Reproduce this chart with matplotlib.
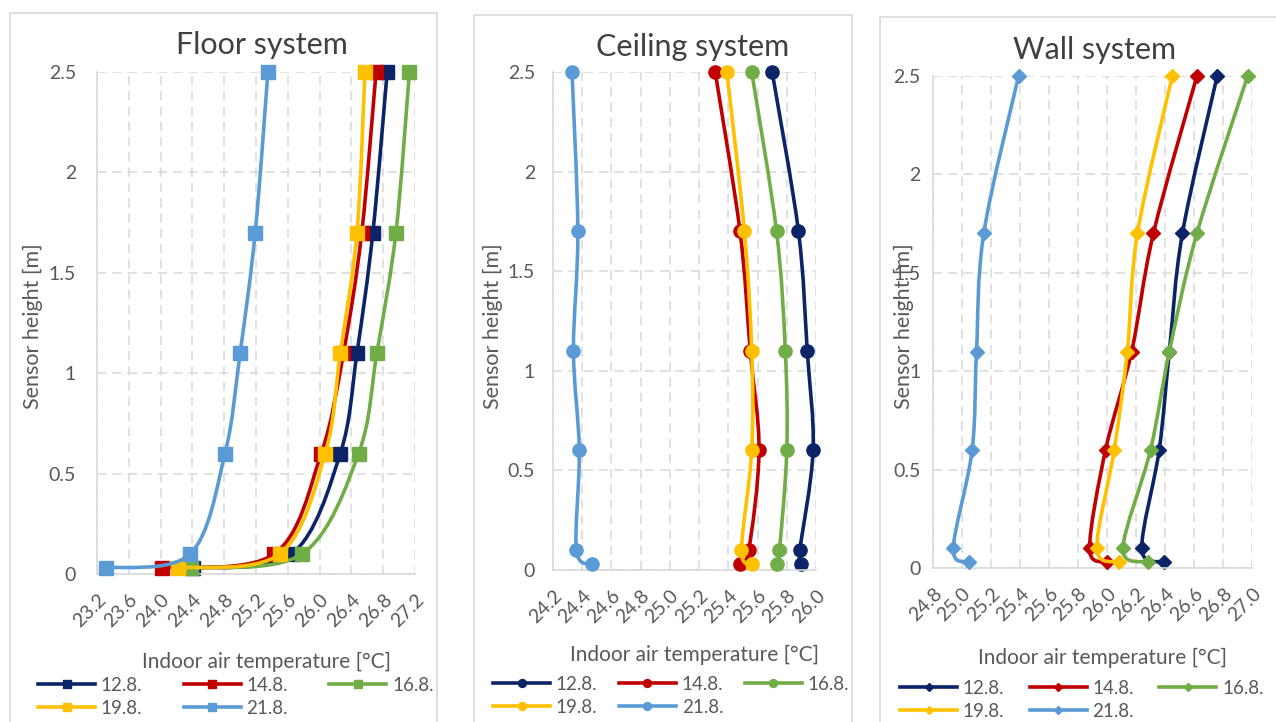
import matplotlib
matplotlib.use("Agg")
import matplotlib.pyplot as plt
from matplotlib.path import Path
from matplotlib.patches import PathPatch, Rectangle
from matplotlib.lines import Line2D
import numpy as np

plt.rcParams['font.family'] = ['Lato', 'DejaVu Sans']

heights = [0.03, 0.1, 0.6, 1.1, 1.7, 2.5]
days = ["12.8.", "14.8.", "16.8.", "19.8.", "21.8."]
colors = ["#0B2468", "#C00000", "#70AD47", "#FFC000", "#5B9BD5"]

# temperatures per day, bottom sensor -> top sensor
floor_temps = [
    [24.41, 25.65, 26.26, 26.47, 26.67, 26.85],
    [24.02, 25.43, 26.02, 26.30, 26.53, 26.71],
    [24.38, 25.78, 26.49, 26.72, 26.96, 27.13],
    [24.22, 25.50, 26.07, 26.26, 26.47, 26.57],
    [23.31, 24.37, 24.81, 25.00, 25.19, 25.35],
]
ceiling_temps = [
    [25.90, 25.89, 25.98, 25.94, 25.88, 25.70],
    [25.48, 25.54, 25.61, 25.55, 25.48, 25.31],
    [25.73, 25.75, 25.80, 25.79, 25.73, 25.56],
    [25.56, 25.49, 25.56, 25.56, 25.51, 25.39],
    [24.47, 24.36, 24.38, 24.34, 24.37, 24.33],
]
wall_temps = [
    [26.39, 26.24, 26.36, 26.43, 26.52, 26.76],
    [26.00, 25.88, 25.99, 26.17, 26.32, 26.62],
    [26.28, 26.11, 26.30, 26.43, 26.62, 26.97],
    [26.08, 25.93, 26.05, 26.14, 26.21, 26.45],
    [25.05, 24.94, 25.07, 25.10, 25.15, 25.39],
]

floor_xticks = [23.2, 23.6, 24.0, 24.4, 24.8, 25.2, 25.6, 26.0, 26.4, 26.8, 27.2]
ceiling_xticks = [24.2, 24.4, 24.6, 24.8, 25.0, 25.2, 25.4, 25.6, 25.8, 26.0]
wall_xticks = [24.8, 25.0, 25.2, 25.4, 25.6, 25.8, 26.0, 26.2, 26.4, 26.6, 26.8, 27.0]
yticks = [0, 0.5, 1, 1.5, 2, 2.5]
ytick_labels = ["0", "0.5", "1", "1.5", "2", "2.5"]

W, H = 1276, 722
fig = plt.figure(figsize=(W / 100, H / 100), dpi=100)
fig.patch.set_facecolor("white")

GRAY = "#595959"


def smooth_path(x, y):
    # Excel-like smoothed line (Catmull-Rom as cubic Bezier)
    p = np.column_stack([x, y])
    n = len(p)
    verts = [p[0]]
    codes = [Path.MOVETO]
    for i in range(n - 1):
        p0 = p[i - 1] if i > 0 else p[i]
        p3 = p[i + 2] if i + 2 < n else p[i + 1]
        c1 = p[i] + (p[i + 1] - p0) / 6.0
        c2 = p[i + 1] - (p3 - p[i]) / 6.0
        verts += [c1, c2, p[i + 1]]
        codes += [Path.CURVE4] * 3
    return Path(verts, codes)


def panel(rect_px, box_px, temps, xticks, marker, ms, title, title_xy,
          ylab_x, ypad, xlab_y, leg_xy, colsp):
    l, t, r, b = rect_px
    ax = fig.add_axes([l / W, 1 - b / H, (r - l) / W, (b - t) / H])
    fig.add_artist(Rectangle((box_px[0] / W, 1 - box_px[3] / H),
                             (box_px[2] - box_px[0]) / W,
                             (box_px[3] - box_px[1]) / H,
                             transform=fig.transFigure, fill=False,
                             ec="#D9D9D9", lw=1.2, zorder=0))
    handles = []
    for k, (vals, c) in enumerate(zip(temps, colors)):
        ax.add_patch(PathPatch(smooth_path(vals, heights), fc="none", ec=c,
                               lw=2.6, zorder=2 + k, capstyle="round"))
        ax.plot(vals, heights, ls="none", marker=marker, ms=ms, color=c,
                mec=c, zorder=2.5 + k, clip_on=False)
        handles.append(Line2D([], [], color=c, lw=2.6, marker=marker,
                              ms=ms * 0.6, label=days[k]))
    ax.set_xlim(xticks[0], xticks[-1])
    ax.set_ylim(0, 2.5)
    ax.set_xticks(xticks)
    ax.set_xticklabels([f"{v:.1f}" for v in xticks], rotation=45,
                       ha="right", rotation_mode="anchor", fontsize=14,
                       color=GRAY)
    ax.set_yticks(yticks)
    ax.set_yticklabels(ytick_labels, fontsize=14, color=GRAY)
    ax.tick_params(length=0)
    ax.tick_params(axis="x", pad=12)
    ax.tick_params(axis="y", pad=ypad)
    ax.grid(True, color="#D9D9D9", ls=(0, (6, 4)), lw=1.1)
    ax.set_axisbelow(True)
    for s in ["top", "right"]:
        ax.spines[s].set_visible(False)
    for s in ["left", "bottom"]:
        ax.spines[s].set_color("#D9D9D9")
        ax.spines[s].set_linewidth(1.2)
    fig.text(title_xy[0] / W, 1 - title_xy[1] / H, title, fontsize=22,
             color="#404040", ha="center", va="center")
    fig.text(ylab_x / W, 1 - 326 / H, "Sensor height [m]",
             rotation=90, fontsize=15.5, color=GRAY, ha="center",
             va="center")
    fig.text(((l + r) / 2 + 10) / W, 1 - xlab_y / H,
             "Indoor air temperature [°C]", fontsize=15, color=GRAY,
             ha="center", va="center")
    order = [0, 3, 1, 4, 2]
    fig.legend([handles[i] for i in order], [days[i] for i in order],
               loc="upper left",
               bbox_to_anchor=(leg_xy[0] / W, 1 - leg_xy[1] / H),
               ncol=3, frameon=False, fontsize=13.5, handlelength=3.05,
               columnspacing=colsp, labelspacing=0.3, handletextpad=0.3,
               borderpad=0, borderaxespad=0, labelcolor=GRAY)
    return ax


panel((97, 72, 415, 574), (10, 13, 437, 740), floor_temps, floor_xticks,
      "s", 10, "Floor system", (262, 45), 33, 15, 662, (38, 677), 2.2)
panel((553, 72, 816, 570), (474, 15, 852, 740), ceiling_temps,
      ceiling_xticks, "o", 9.5, "Ceiling system", (693, 47), 493, 13, 655,
      (493, 676), 1.15)
panel((933, 76, 1252, 568), (880, 17, 1290, 740), wall_temps, wall_xticks,
      "D", 7, "Wall system", (1095, 50), 904, 9, 658, (900, 680), 1.35)

fig.savefig("out.png", dpi=100, facecolor="white")
